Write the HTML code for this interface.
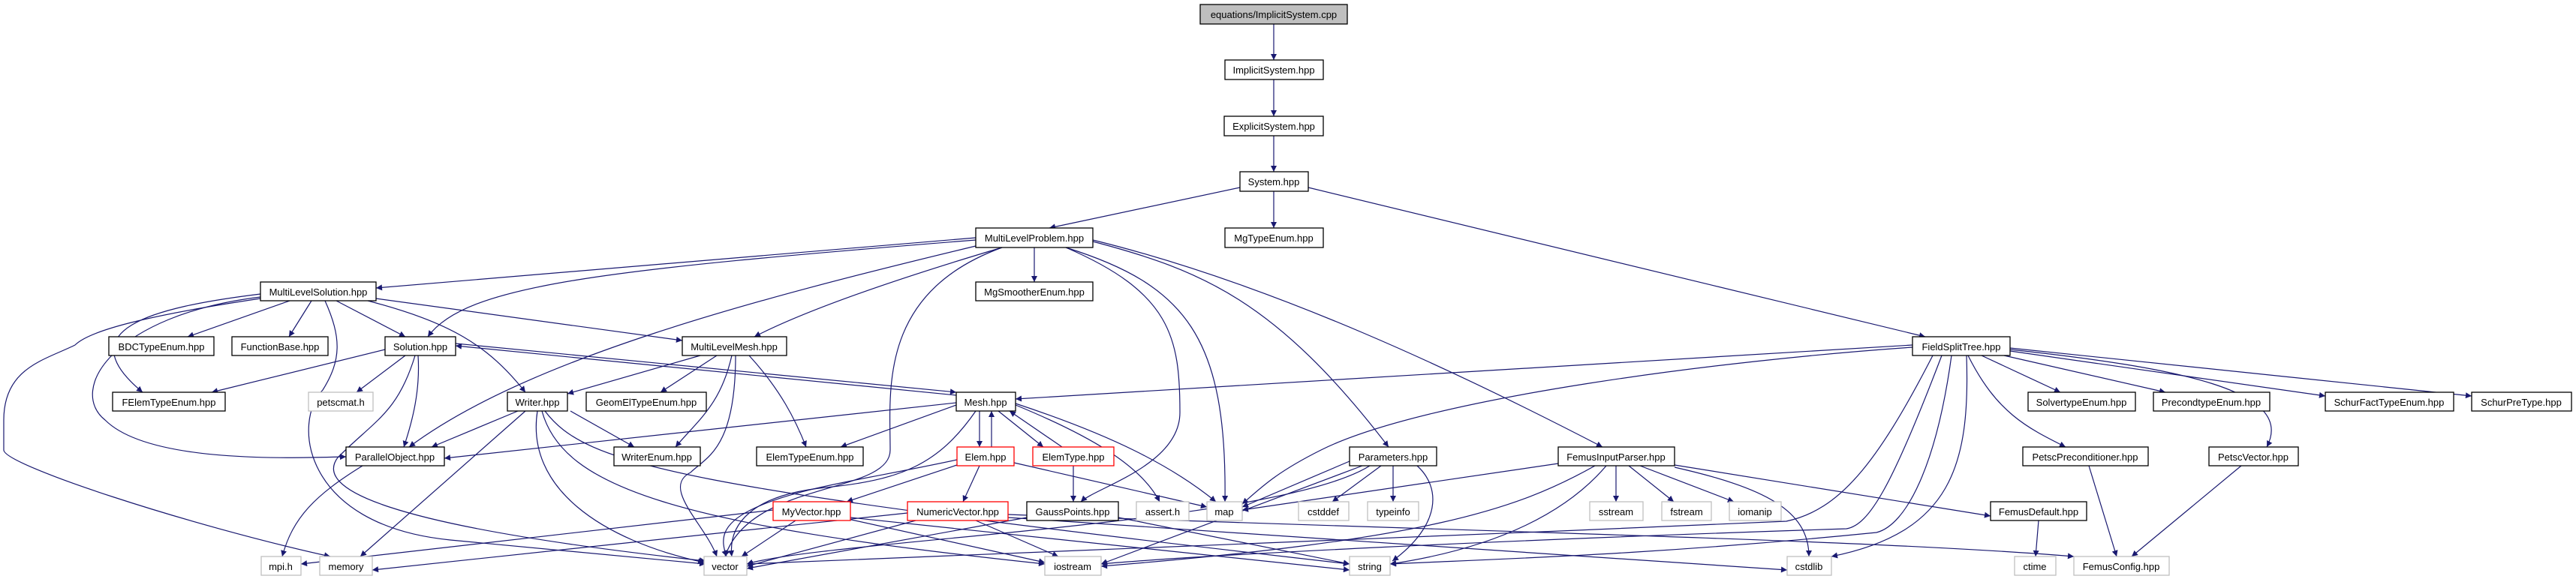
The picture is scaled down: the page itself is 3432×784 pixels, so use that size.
<!DOCTYPE html>
<html><head><meta charset="utf-8"><style>
html,body{margin:0;padding:0;background:#fff;}
svg{display:block;}
text{font-family:"Liberation Sans",Arial,sans-serif;font-size:13px;fill:#000;text-anchor:middle;}
.e path{fill:none;stroke:#191970;stroke-width:1.2;marker-end:url(#a);}
.n rect{fill:#fff;stroke:#000;stroke-width:1.3;}
.r rect{fill:#fff;stroke:#ff0000;stroke-width:1.3;}
.g rect{fill:#fff;stroke:#bfbfbf;stroke-width:1.3;}
</style></head><body>
<svg width="3432" height="784" viewBox="0 0 3432 784" xmlns="http://www.w3.org/2000/svg">
<defs><marker id="a" viewBox="0 0 10 10" refX="10" refY="5" markerWidth="10" markerHeight="8" markerUnits="userSpaceOnUse" orient="auto"><path d="M0 0 L10 5 L0 10 z" fill="#191970"/></marker></defs>
<g class="e">
<path d="M1697 32 L1697 80"/><path d="M1697 106 L1697 155"/><path d="M1697 181 L1697 229"/>
<path d="M1652 250 L1398 304"/><path d="M1697 255 L1697 304"/><path d="M1743 250 L2565 449"/>
<path d="M1300 317 L501 384"/>
<path d="M1300 320 C 800 360 620 380 570 449"/>
<path d="M1335 330 Q 1100 400 1005 449"/>
<path d="M1378 330 L1378 376"/>
<path d="M1300 328 C 1000 400 700 480 545 596"/>
<path d="M1335 330 C 1170 390 1186 520 1186 600 C 1186 660 1000 640 966 742"/>
<path d="M1420 330 C 1580 380 1635 450 1632 669"/>
<path d="M1420 330 C 1560 390 1572 450 1572 550 C 1572 620 1460 650 1440 669"/>
<path d="M1456 322 C 1600 360 1700 400 1850 596"/>
<path d="M1456 320 C 1700 380 1950 500 2135 596"/>
<path d="M386 401 L250 449"/><path d="M415 401 L385 449"/><path d="M448 401 L540 449"/>
<path d="M347 392 C 200 410 90 440 190 523"/>
<path d="M347 396 C 150 420 90 520 140 560 C 200 620 400 610 461 609"/>
<path d="M347 398 C 200 420 120 440 100 460 C 60 480 5 490 5 560 L5 600 C 5 620 250 700 440 742"/>
<path d="M433 401 C 455 450 455 480 430 520 C 390 560 400 700 600 720 L940 752"/>
<path d="M490 401 C 600 430 650 460 700 523"/>
<path d="M501 398 L909 454"/>
<path d="M513 466 L282 523"/><path d="M540 474 L475 523"/>
<path d="M557 474 C 560 520 550 560 538 596"/>
<path d="M553 474 C 530 550 500 560 450 610 C 420 650 500 700 940 748"/>
<path d="M607 458 L1274 523"/><path d="M1274 527 L607 461"/>
<path d="M955 474 L880 523"/>
<path d="M975 474 C 960 540 930 560 900 596"/>
<path d="M998 474 C 1040 520 1060 560 1074 596"/>
<path d="M980 474 C 980 600 940 610 920 630 C 880 650 940 700 955 742"/>
<path d="M933 474 L756 525"/>
<path d="M690 548 L575 596"/><path d="M760 548 L845 596"/><path d="M700 548 L480 742"/>
<path d="M716 548 C 700 650 800 720 938 750"/>
<path d="M722 548 C 750 650 900 700 1392 752"/>
<path d="M726 548 C 780 620 900 650 1798 752"/>
<path d="M1274 537 L592 611"/><path d="M1274 540 L1120 596"/>
<path d="M1305 548 L1305 596"/><path d="M1321 596 L1321 548"/>
<path d="M1330 548 L1390 596"/><path d="M1415 596 L1345 548"/>
<path d="M1300 548 C 1250 620 1200 640 1100 650 C 1000 660 970 700 975 742"/>
<path d="M1353 540 C 1450 580 1520 620 1545 669"/>
<path d="M1353 538 C 1480 580 1560 620 1620 669"/>
<path d="M1275 620 L1128 669"/><path d="M1305 621 L1283 669"/>
<path d="M1275 613 C 1150 640 1060 650 1000 680 C 960 700 960 720 968 742"/>
<path d="M1351 617 L1608 676"/><path d="M1430 621 L1430 669"/>
<path d="M1060 694 L988 742"/><path d="M1130 692 L1392 750"/><path d="M1030 680 L401 752"/><path d="M1133 690 L1798 760"/>
<path d="M1220 694 L995 755"/><path d="M1300 694 L1410 742"/><path d="M1209 684 L496 760"/><path d="M1343 690 L2381 760"/>
<path d="M1343 686 C 2000 710 2500 720 2763 742"/>
<path d="M1368 690 L995 758"/><path d="M1490 690 L1798 752"/>
<path d="M1840 621 L1775 669"/><path d="M1856 621 L1856 669"/>
<path d="M1888 621 C 1920 650 1920 700 1855 748"/>
<path d="M1798 615 L1655 676"/><path d="M1815 621 L1467 752"/>
<path d="M1825 621 C 1700 700 1100 720 995 752"/>
<path d="M2153 621 L2153 669"/><path d="M2170 621 L2230 669"/><path d="M2185 621 L2310 669"/>
<path d="M2231 623 C 2350 650 2410 680 2410 742"/>
<path d="M2140 621 C 2090 680 2000 730 1852 752"/>
<path d="M2076 618 L1655 680"/>
<path d="M2125 621 C 2020 680 1900 720 1467 755"/>
<path d="M2231 620 L2652 688"/>
<path d="M2716 694 L2712 742"/>
<path d="M2548 460 L1353 532"/>
<path d="M2548 463 C 2300 480 1900 530 1760 600 C 1700 630 1680 650 1655 672"/>
<path d="M2587 474 C 2520 650 2490 700 2460 705 C 2000 720 1600 740 1467 752"/>
<path d="M2600 474 C 2580 620 2540 700 2500 710 C 2200 740 2000 745 1852 752"/>
<path d="M2575 474 C 2500 620 2450 680 2380 695 C 1800 720 1100 750 995 752"/>
<path d="M2620 474 C 2625 620 2600 710 2440 742"/>
<path d="M2640 474 L2745 523"/><path d="M2670 474 L2885 523"/>
<path d="M2678 468 L3098 528"/><path d="M2678 464 L3293 528"/>
<path d="M2622 474 C 2660 550 2700 570 2752 596"/>
<path d="M2678 466 C 2900 490 3060 520 3020 596"/>
<path d="M2783 621 L2820 742"/><path d="M2986 621 L2840 742"/>
<path d="M483 621 C 420 660 390 690 376 742"/>
</g>
<g class="n">
<rect x="1599" y="6" width="196" height="26" style="fill:#bfbfbf"/><text x="1697" y="24">equations/ImplicitSystem.cpp</text>
<rect x="1632" y="80" width="131" height="26"/><text x="1697" y="98">ImplicitSystem.hpp</text>
<rect x="1631" y="155" width="132" height="26"/><text x="1697" y="173">ExplicitSystem.hpp</text>
<rect x="1652" y="229" width="91" height="26"/><text x="1697" y="247">System.hpp</text>
<rect x="1300" y="304" width="156" height="26"/><text x="1378" y="322">MultiLevelProblem.hpp</text>
<rect x="1632" y="304" width="131" height="26"/><text x="1697" y="322">MgTypeEnum.hpp</text>
<rect x="1300" y="376" width="156" height="25"/><text x="1378" y="394">MgSmootherEnum.hpp</text>
<rect x="347" y="376" width="154" height="25"/><text x="424" y="394">MultiLevelSolution.hpp</text>
<rect x="145" y="449" width="140" height="25"/><text x="215" y="467">BDCTypeEnum.hpp</text>
<rect x="309" y="449" width="128" height="25"/><text x="373" y="467">FunctionBase.hpp</text>
<rect x="513" y="449" width="94" height="25"/><text x="560" y="467">Solution.hpp</text>
<rect x="909" y="449" width="139" height="25"/><text x="978" y="467">MultiLevelMesh.hpp</text>
<rect x="2548" y="449" width="130" height="25"/><text x="2613" y="467">FieldSplitTree.hpp</text>
<rect x="150" y="523" width="150" height="25"/><text x="225" y="541">FElemTypeEnum.hpp</text>
<rect x="676" y="523" width="80" height="25"/><text x="716" y="541">Writer.hpp</text>
<rect x="781" y="523" width="160" height="25"/><text x="861" y="541">GeomElTypeEnum.hpp</text>
<rect x="1274" y="523" width="79" height="25"/><text x="1313" y="541">Mesh.hpp</text>
<rect x="2702" y="523" width="143" height="25"/><text x="2773" y="541">SolvertypeEnum.hpp</text>
<rect x="2869" y="523" width="155" height="25"/><text x="2946" y="541">PrecondtypeEnum.hpp</text>
<rect x="3098" y="523" width="171" height="25"/><text x="3183" y="541">SchurFactTypeEnum.hpp</text>
<rect x="3293" y="523" width="133" height="25"/><text x="3359" y="541">SchurPreType.hpp</text>
<rect x="461" y="596" width="131" height="25"/><text x="526" y="614">ParallelObject.hpp</text>
<rect x="818" y="596" width="115" height="25"/><text x="875" y="614">WriterEnum.hpp</text>
<rect x="1008" y="596" width="142" height="25"/><text x="1079" y="614">ElemTypeEnum.hpp</text>
<rect x="1798" y="596" width="116" height="25"/><text x="1856" y="614">Parameters.hpp</text>
<rect x="2076" y="596" width="155" height="25"/><text x="2153" y="614">FemusInputParser.hpp</text>
<rect x="2695" y="596" width="167" height="25"/><text x="2778" y="614">PetscPreconditioner.hpp</text>
<rect x="2943" y="596" width="119" height="25"/><text x="3002" y="614">PetscVector.hpp</text>
<rect x="1368" y="669" width="122" height="25"/><text x="1429" y="687">GaussPoints.hpp</text>
<rect x="2652" y="669" width="128" height="25"/><text x="2716" y="687">FemusDefault.hpp</text>
</g>
<g class="r">
<rect x="1275" y="596" width="76" height="25"/><text x="1313" y="614">Elem.hpp</text>
<rect x="1376" y="596" width="108" height="25"/><text x="1430" y="614">ElemType.hpp</text>
<rect x="1030" y="669" width="103" height="25"/><text x="1081" y="687">MyVector.hpp</text>
<rect x="1209" y="669" width="134" height="25"/><text x="1276" y="687">NumericVector.hpp</text>
</g>
<g class="g">
<rect x="411" y="523" width="86" height="25"/><text x="454" y="541">petscmat.h</text>
<rect x="1514" y="669" width="70" height="25"/><text x="1549" y="687">assert.h</text>
<rect x="1608" y="669" width="47" height="25"/><text x="1631" y="687">map</text>
<rect x="1730" y="669" width="67" height="25"/><text x="1763" y="687">cstddef</text>
<rect x="1822" y="669" width="68" height="25"/><text x="1856" y="687">typeinfo</text>
<rect x="2118" y="669" width="71" height="25"/><text x="2153" y="687">sstream</text>
<rect x="2214" y="669" width="66" height="25"/><text x="2247" y="687">fstream</text>
<rect x="2304" y="669" width="69" height="25"/><text x="2338" y="687">iomanip</text>
<rect x="348" y="742" width="53" height="25"/><text x="374" y="760">mpi.h</text>
<rect x="426" y="742" width="70" height="25"/><text x="461" y="760">memory</text>
<rect x="938" y="742" width="57" height="25"/><text x="966" y="760">vector</text>
<rect x="1392" y="742" width="75" height="25"/><text x="1429" y="760">iostream</text>
<rect x="1798" y="742" width="54" height="25"/><text x="1825" y="760">string</text>
<rect x="2381" y="742" width="59" height="25"/><text x="2410" y="760">cstdlib</text>
<rect x="2684" y="742" width="55" height="25"/><text x="2711" y="760">ctime</text>
<rect x="2763" y="742" width="127" height="25"/><text x="2826" y="760">FemusConfig.hpp</text>
</g>
</svg>
</body></html>
